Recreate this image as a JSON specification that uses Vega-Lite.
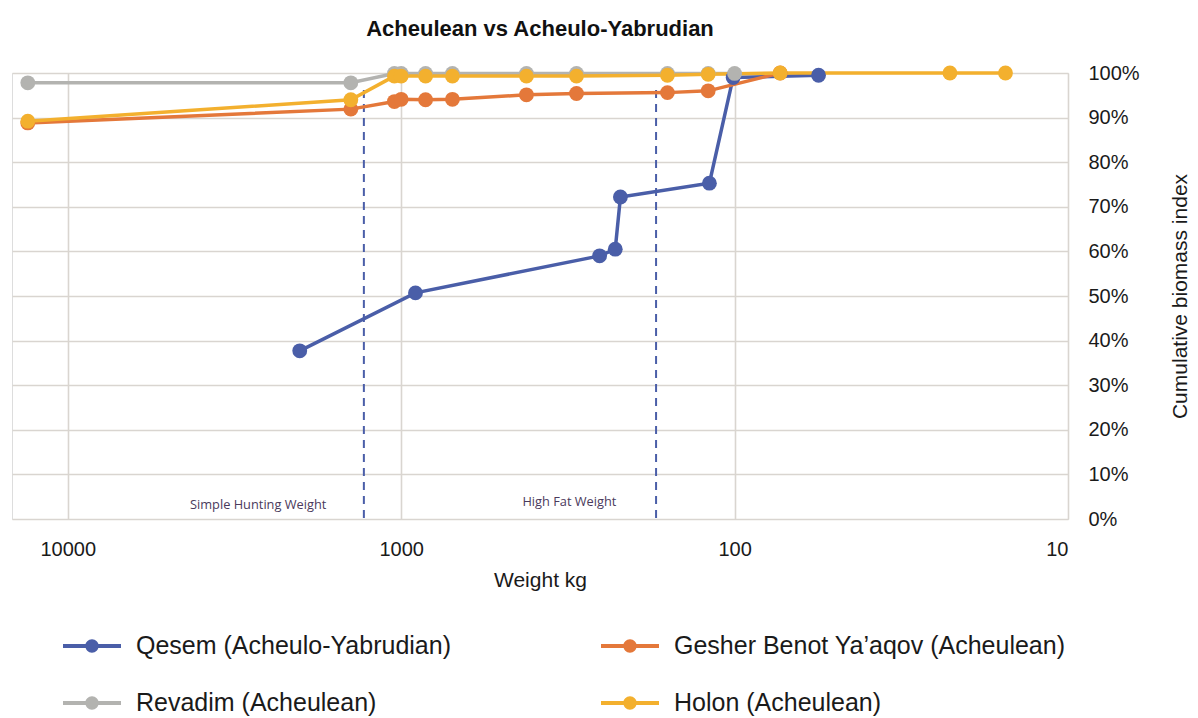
{
  "$schema": "https://vega.github.io/schema/vega-lite/v6.json",
  "autosize": {"type": "none"},
  "padding": {"left": 12, "top": 73, "right": 130, "bottom": 199},
  "width": 1056,
  "height": 446,
  "background": "#ffffff",
  "title": {
    "text": "Acheulean vs Acheulo-Yabrudian",
    "font": "Liberation Sans",
    "fontSize": 22,
    "fontWeight": "bold",
    "color": "#111111",
    "anchor": "middle",
    "offset": 22
  },
  "datasets": {
    "series": [
      {"site": "Qesem (Acheulo-Yabrudian)", "weight": 2015, "biomass": 0.377},
      {"site": "Qesem (Acheulo-Yabrudian)", "weight": 906, "biomass": 0.507},
      {"site": "Qesem (Acheulo-Yabrudian)", "weight": 254, "biomass": 0.590},
      {"site": "Qesem (Acheulo-Yabrudian)", "weight": 228, "biomass": 0.605},
      {"site": "Qesem (Acheulo-Yabrudian)", "weight": 220, "biomass": 0.722},
      {"site": "Qesem (Acheulo-Yabrudian)", "weight": 119, "biomass": 0.753},
      {"site": "Qesem (Acheulo-Yabrudian)", "weight": 101, "biomass": 0.990},
      {"site": "Qesem (Acheulo-Yabrudian)", "weight": 56, "biomass": 0.995},
      {"site": "Gesher Benot Ya’aqov (Acheulean)", "weight": 13180, "biomass": 0.888},
      {"site": "Gesher Benot Ya’aqov (Acheulean)", "weight": 1416, "biomass": 0.919},
      {"site": "Gesher Benot Ya’aqov (Acheulean)", "weight": 1048, "biomass": 0.936},
      {"site": "Gesher Benot Ya’aqov (Acheulean)", "weight": 1000, "biomass": 0.941},
      {"site": "Gesher Benot Ya’aqov (Acheulean)", "weight": 845, "biomass": 0.940},
      {"site": "Gesher Benot Ya’aqov (Acheulean)", "weight": 702, "biomass": 0.941},
      {"site": "Gesher Benot Ya’aqov (Acheulean)", "weight": 421, "biomass": 0.951},
      {"site": "Gesher Benot Ya’aqov (Acheulean)", "weight": 298, "biomass": 0.954},
      {"site": "Gesher Benot Ya’aqov (Acheulean)", "weight": 159, "biomass": 0.956},
      {"site": "Gesher Benot Ya’aqov (Acheulean)", "weight": 120, "biomass": 0.960},
      {"site": "Gesher Benot Ya’aqov (Acheulean)", "weight": 73, "biomass": 1.0},
      {"site": "Revadim (Acheulean)", "weight": 13180, "biomass": 0.978},
      {"site": "Revadim (Acheulean)", "weight": 1416, "biomass": 0.978},
      {"site": "Revadim (Acheulean)", "weight": 1048, "biomass": 0.999},
      {"site": "Revadim (Acheulean)", "weight": 1000, "biomass": 0.999},
      {"site": "Revadim (Acheulean)", "weight": 845, "biomass": 0.999},
      {"site": "Revadim (Acheulean)", "weight": 702, "biomass": 0.999},
      {"site": "Revadim (Acheulean)", "weight": 421, "biomass": 0.999},
      {"site": "Revadim (Acheulean)", "weight": 298, "biomass": 0.999},
      {"site": "Revadim (Acheulean)", "weight": 159, "biomass": 0.999},
      {"site": "Revadim (Acheulean)", "weight": 120, "biomass": 0.999},
      {"site": "Revadim (Acheulean)", "weight": 100, "biomass": 0.999},
      {"site": "Holon (Acheulean)", "weight": 13180, "biomass": 0.892},
      {"site": "Holon (Acheulean)", "weight": 1416, "biomass": 0.940},
      {"site": "Holon (Acheulean)", "weight": 1048, "biomass": 0.993},
      {"site": "Holon (Acheulean)", "weight": 1000, "biomass": 0.993},
      {"site": "Holon (Acheulean)", "weight": 845, "biomass": 0.993},
      {"site": "Holon (Acheulean)", "weight": 702, "biomass": 0.993},
      {"site": "Holon (Acheulean)", "weight": 421, "biomass": 0.993},
      {"site": "Holon (Acheulean)", "weight": 298, "biomass": 0.993},
      {"site": "Holon (Acheulean)", "weight": 159, "biomass": 0.995},
      {"site": "Holon (Acheulean)", "weight": 120, "biomass": 0.997},
      {"site": "Holon (Acheulean)", "weight": 73, "biomass": 1.0},
      {"site": "Holon (Acheulean)", "weight": 22.6, "biomass": 1.0},
      {"site": "Holon (Acheulean)", "weight": 15.4, "biomass": 1.0}
    ],
    "markers": [
      {"weight": 1294, "top": 0.962, "bottom": 0, "label": "Simple Hunting Weight", "lx": 2685, "ly": 0.031},
      {"weight": 172, "top": 0.962, "bottom": 0, "label": "High Fat Weight", "lx": 313, "ly": 0.038}
    ]
  },
  "layer": [
    {
      "data": {"name": "markers"},
      "mark": {"type": "rule", "color": "#4a5ea8", "strokeWidth": 2, "strokeDash": [8, 6]},
      "encoding": {
        "x": {"field": "weight", "type": "quantitative", "scale": {"type": "log", "domain": [10, 14700], "reverse": true, "nice": false}},
        "y": {"field": "top", "type": "quantitative"},
        "y2": {"field": "bottom"}
      }
    },
    {
      "data": {"name": "markers"},
      "mark": {"type": "text", "font": "Open Sans", "fontSize": 12.8, "color": "#4a3a5c", "align": "center", "baseline": "middle"},
      "encoding": {
        "x": {"field": "lx", "type": "quantitative"},
        "y": {"field": "ly", "type": "quantitative"},
        "text": {"field": "label"}
      }
    },
    {
      "data": {"name": "series"},
      "mark": {"type": "line", "strokeWidth": 3.5},
      "encoding": {
        "x": {"field": "weight", "type": "quantitative"},
        "y": {"field": "biomass", "type": "quantitative"},
        "color": {"field": "site", "type": "nominal"},
        "order": {"field": "weight", "type": "quantitative"}
      }
    },
    {
      "data": {"name": "series"},
      "mark": {"type": "point", "filled": true, "opacity": 1, "size": 220},
      "encoding": {
        "x": {
          "field": "weight", "type": "quantitative",
          "scale": {"type": "log", "domain": [10, 14700], "reverse": true, "nice": false},
          "axis": {
            "values": [10000, 1000, 100, 10],
            "format": "d",
            "title": "Weight kg",
            "titleFont": "Liberation Sans",
            "titleFontSize": 21,
            "titleFontWeight": "normal",
            "titleColor": "#1a1a1a",
            "titlePadding": 10,
            "labelFont": "Liberation Sans",
            "labelFontSize": 20,
            "labelColor": "#1a1a1a",
            "labelPadding": 20,
            "domain": false,
            "ticks": false,
            "grid": true,
            "gridColor": "#d9d5d0",
            "gridWidth": 1.6
          }
        },
        "y": {
          "field": "biomass", "type": "quantitative",
          "scale": {"domain": [0, 1], "nice": false},
          "axis": {
            "orient": "right",
            "values": [0, 0.1, 0.2, 0.3, 0.4, 0.5, 0.6, 0.7, 0.8, 0.9, 1.0],
            "format": ".0%",
            "title": "Cumulative biomass index",
            "titleAngle": 270,
            "titleX": 112,
            "titleY": 223,
            "titleAlign": "center",
            "titleBaseline": "middle",
            "titleFont": "Liberation Sans",
            "titleFontSize": 21,
            "titleFontWeight": "normal",
            "titleColor": "#1a1a1a",
            "labelFont": "Liberation Sans",
            "labelFontSize": 20,
            "labelColor": "#1a1a1a",
            "labelPadding": 20,
            "domain": false,
            "ticks": false,
            "grid": true,
            "gridColor": "#d9d5d0",
            "gridWidth": 1.6
          }
        },
        "color": {
          "field": "site", "type": "nominal",
          "scale": {
            "domain": ["Qesem (Acheulo-Yabrudian)", "Gesher Benot Ya’aqov (Acheulean)", "Revadim (Acheulean)", "Holon (Acheulean)"],
            "range": ["#4a5ea8", "#e4783a", "#b3b3b0", "#f3b02e"]
          },
          "legend": {
            "orient": "none",
            "legendX": 51,
            "legendY": 544,
            "direction": "horizontal",
            "columns": 2,
            "title": null,
            "labelFont": "Liberation Sans",
            "labelFontSize": 25,
            "labelLimit": 700,
            "labelColor": "#1a1a1a",
            "labelOffset": 15,
            "columnPadding": 150,
            "rowPadding": 15,
            "symbolType": "M-1,-0.07H1V0.07H-1Z M0.23,0 A0.23,0.23 0 1,1 -0.23,0 A0.23,0.23 0 1,1 0.23,0Z",
            "symbolSize": 3364,
            "symbolStrokeWidth": 0,
            "symbolOpacity": 1
          }
        }
      }
    }
  ]
}
